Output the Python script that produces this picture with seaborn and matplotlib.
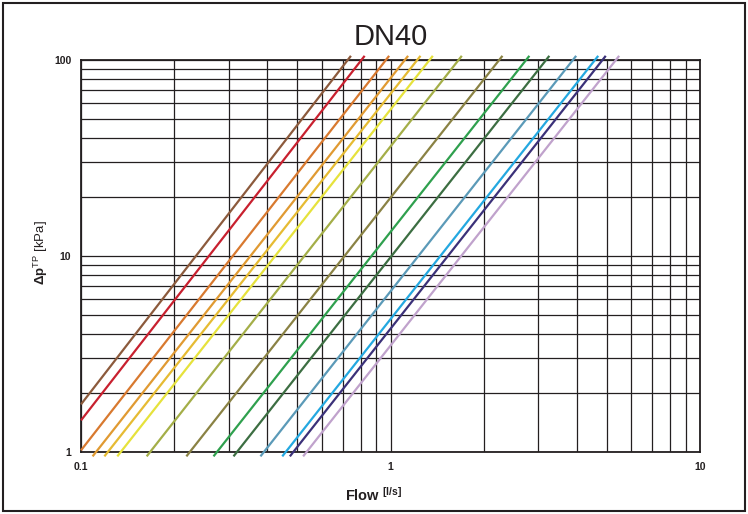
import matplotlib
matplotlib.use("Agg")
import matplotlib.pyplot as plt
from matplotlib.patches import Rectangle
from matplotlib.ticker import FixedLocator, FixedFormatter, NullFormatter
import seaborn as sns
import pandas as pd

# ---- data (each curve = straight segment in log-log) ----
curves = ["c1", "c2", "c3", "c4", "c5", "c6", "c7", "c8", "c9", "c10", "c11", "c12", "c13", "c14"]
colors = ["#8c5a3c", "#c8202f", "#d8792f", "#e09a32", "#e6bb33", "#e6e23c",
          "#a4ae48", "#8a8244", "#2fa04e", "#3c6e42", "#5b9ab8", "#24a8e0",
          "#3b3179", "#c0a2cc"]
q_start = [0.1, 0.1, 0.1, 0.109, 0.119, 0.131, 0.163, 0.219, 0.268, 0.311, 0.380, 0.447, 0.473, 0.522]
dp_start = [1.75, 1.45, 1.02, 0.95, 0.95, 0.95, 0.95, 0.95, 0.95, 0.95, 0.95, 0.95, 0.95, 0.95]
q_end = [0.745, 0.825, 0.99, 1.14, 1.25, 1.37, 1.70, 2.30, 2.81, 3.26, 3.98, 4.69, 4.96, 5.48]
dp_end = [105] * 14

x_ticks = [0.1, 1, 10]
x_tick_labels = ["0.1", "1", "10"]
y_ticks = [1, 10, 100]
y_tick_labels = ["1", "10", "100"]

rows = []
for c, qs, ds, qe, de in zip(curves, q_start, dp_start, q_end, dp_end):
    rows.append({"curve": c, "flow": qs, "dp": ds})
    rows.append({"curve": c, "flow": qe, "dp": de})
df = pd.DataFrame(rows)

sns.set_theme(style="white")
plt.rcParams["font.family"] = ["Liberation Sans", "DejaVu Sans"]
plt.rcParams["mathtext.fontset"] = "custom"
plt.rcParams["mathtext.rm"] = "Liberation Sans"
plt.rcParams["mathtext.bf"] = "Liberation Sans:bold"
plt.rcParams["mathtext.it"] = "Liberation Sans:italic"

fig = plt.figure(figsize=(7.48, 5.14), dpi=100)
ax = fig.add_axes([81 / 748, 1 - 452 / 514, 619 / 748, 392 / 514])
ax.set_xscale("log")
ax.set_yscale("log")

sns.lineplot(data=df, x="flow", y="dp", hue="curve", hue_order=curves,
             palette=colors, estimator=None, legend=False, linewidth=1.6, ax=ax)
for ln in ax.lines:
    ln.set_clip_on(False)
    ln.set_solid_capstyle("butt")
    ln.set_zorder(3)

ax.set_xlim(0.1, 10)
ax.set_ylim(1, 100)

ax.xaxis.set_major_locator(FixedLocator(x_ticks))
ax.xaxis.set_major_formatter(FixedFormatter(x_tick_labels))
ax.yaxis.set_major_locator(FixedLocator(y_ticks))
ax.yaxis.set_major_formatter(FixedFormatter(y_tick_labels))
ax.xaxis.set_minor_locator(FixedLocator([m * d for d in (0.1, 1) for m in range(2, 10)]))
ax.yaxis.set_minor_locator(FixedLocator([m * d for d in (1, 10) for m in range(2, 10)]))
ax.xaxis.set_minor_formatter(NullFormatter())
ax.yaxis.set_minor_formatter(NullFormatter())

ax.grid(True, which="both", color="#231f20", linewidth=0.9)
ax.set_axisbelow(True)
ax.tick_params(which="major", direction="out", length=4, width=1, color="#231f20",
               labelsize=7.5, labelcolor="#231f20", pad=3)
ax.tick_params(which="minor", length=0)
for lab in ax.get_xticklabels() + ax.get_yticklabels():
    lab.set_fontweight("bold")
for sp in ax.spines.values():
    sp.set_color("#231f20")
    sp.set_linewidth(1.3)
    sp.set_visible(True)

ax.set_title("DN40", fontsize=21, color="#231f20", pad=11)
ax.set_xlabel(r"Flow $^{\mathbf{[l/s]}}$", fontsize=10.5, fontweight="bold", color="#231f20")
ax.xaxis.set_label_coords(0.4725, -0.085)
ax.set_ylabel(r"$\mathbf{\Delta p}^{\rm TP}$ [kPa]", fontsize=9.5, color="#231f20")
ax.yaxis.set_label_coords(-0.05, 0.508)

fig.patches.append(Rectangle((3 / 748, 3 / 514), 742 / 748, 508 / 514, transform=fig.transFigure,
                             fill=False, edgecolor="#231f20", linewidth=1.5))

fig.savefig("out.png", dpi=100)
